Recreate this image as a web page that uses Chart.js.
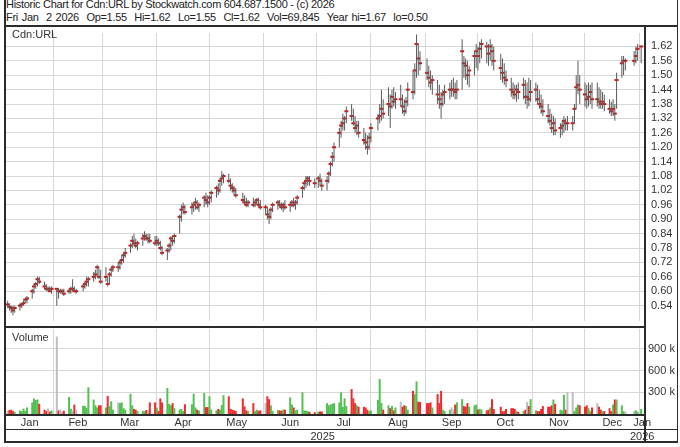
<!DOCTYPE html>
<html>
<head>
<meta charset="utf-8">
<script src="https://cdn.jsdelivr.net/npm/chart.js@4.4.1/dist/chart.umd.min.js"></script>
<style>
body { margin: 0; background: #fff; }
#wrap { position: relative; width: 680px; height: 447px; overflow: hidden; font-family: "Liberation Sans", Arial, sans-serif; color: #222; }
canvas { position: absolute; left: 0; }
.txt { position: absolute; font-size: 11px; line-height: 13px; white-space: pre; }
.hd { letter-spacing: -0.3px; }
.ln { position: absolute; background: #2b2b2b; }
</style>
</head>
<body>
<div id="wrap">
  <div class="txt hd" style="left:6px; top:-2px;">Historic Chart for Cdn:URL by Stockwatch.com 604.687.1500 - (c) 2026</div>
  <div class="txt hd" style="left:6px; top:11px; word-spacing:1px;">Fri Jan  2 2026  Op=1.55  Hi=1.62  Lo=1.55  Cl=1.62  Vol=69,845  Year hi=1.67  lo=0.50</div>
  <canvas id="priceChart" width="680" height="300" style="top:27px"></canvas>
  <canvas id="volumeChart" width="680" height="113" style="top:329px"></canvas>
  <div class="txt" style="left:12px; top:28px; color:#333;">Cdn:URL</div>
  <div class="txt" style="left:12px; top:331px; color:#333;">Volume</div>
  <div class="ln" style="left:4px; top:0px; width:2px; height:443px;"></div>
  <div class="ln" style="left:677px; top:0px; width:1px; height:443px;"></div>
  <div class="ln" style="left:4px; top:25px; width:674px; height:2px;"></div>
  <div class="ln" style="left:4px; top:326px; width:641px; height:2px;"></div>
  <div class="ln" style="left:644px; top:26px; width:2px; height:416px;"></div>
  <div class="ln" style="left:4px; top:414px; width:641px; height:2px;"></div>
  <div class="ln" style="left:4px; top:429px; width:674px; height:1px;"></div>
  <div class="ln" style="left:4px; top:441px; width:674px; height:2px;"></div>
</div>
<script>
const monthNames = ['Jan', 'Feb', 'Mar', 'Apr', 'May', 'Jun', 'Jul', 'Aug', 'Sep', 'Oct', 'Nov', 'Dec', 'Jan'];
const yearLabels = ['2025', '2026'];
const priceTicks = [0.54, 0.60, 0.66, 0.72, 0.78, 0.84, 0.90, 0.96, 1.02, 1.08, 1.14, 1.20, 1.26, 1.32, 1.38, 1.44, 1.50, 1.56, 1.62];
const volumeTicks = [300000, 600000, 900000];
const holidays = ['2025-02-17', '2025-04-18', '2025-05-19', '2025-07-01', '2025-08-04', '2025-09-01',
    '2025-10-13', '2025-12-25', '2025-12-26', '2026-01-01'];

// daily closes, Jan 6 2025 .. Jan 2 2026 (one row per month)
const closes = [
    0.545, 0.535, 0.53, 0.52, 0.53, 0.54, 0.545, 0.55, 0.565, 0.57, 0.60, 0.62, 0.63, 0.65, 0.64, 0.62, 0.61, 0.61, 0.60, 0.61,
    0.61, 0.60, 0.60, 0.60, 0.59, 0.60, 0.61, 0.61, 0.60, 0.60, 0.62, 0.63, 0.64, 0.65, 0.66, 0.67, 0.70, 0.66, 0.64,
    0.66, 0.63, 0.67, 0.69, 0.70, 0.70, 0.72, 0.73, 0.75, 0.76, 0.79, 0.81, 0.80, 0.79, 0.80, 0.82, 0.83, 0.82, 0.82, 0.81, 0.80,
    0.81, 0.80, 0.78, 0.76, 0.77, 0.79, 0.82, 0.81, 0.83, 0.91, 0.94, 0.95, 0.93, 0.95, 0.96, 0.97, 0.95, 0.96, 0.99, 0.98, 0.97,
    0.99, 1.01, 1.03, 1.02, 1.06, 1.07, 1.08, 1.06, 1.04, 1.03, 1.02, 1.00, 0.98, 0.97, 0.96, 0.97, 0.96, 0.97, 0.98, 0.96, 0.95,
    0.95, 0.92, 0.91, 0.94, 0.96, 0.97, 0.96, 0.95, 0.96, 0.95, 0.96, 0.97, 0.96, 0.97, 0.99, 1.03, 1.05, 1.06, 1.07, 1.06, 1.05,
    1.07, 1.06, 1.04, 1.06, 1.09, 1.13, 1.16, 1.20, 1.26, 1.29, 1.30, 1.32, 1.35, 1.33, 1.30, 1.28, 1.29, 1.26, 1.23, 1.22, 1.20, 1.24,
    1.28, 1.32, 1.33, 1.36, 1.34, 1.38, 1.37, 1.41, 1.39, 1.40, 1.40, 1.37, 1.35, 1.39, 1.44, 1.43, 1.52, 1.63, 1.57, 1.55,
    1.51, 1.49, 1.47, 1.48, 1.42, 1.40, 1.38, 1.42, 1.43, 1.44, 1.44, 1.44, 1.43, 1.44, 1.60, 1.55, 1.54, 1.50, 1.52, 1.58, 1.60,
    1.58, 1.61, 1.63, 1.62, 1.59, 1.62, 1.60, 1.56, 1.53, 1.51, 1.49, 1.48, 1.44, 1.43, 1.42, 1.44, 1.43, 1.46, 1.41, 1.41, 1.40, 1.43,
    1.44, 1.40, 1.38, 1.37, 1.35, 1.33, 1.31, 1.28, 1.30, 1.27, 1.28, 1.29, 1.31, 1.30, 1.30, 1.30, 1.36, 1.45, 1.46, 1.44,
    1.42, 1.40, 1.41, 1.43, 1.40, 1.40, 1.39, 1.38, 1.39, 1.38, 1.36, 1.35, 1.36, 1.34, 1.48, 1.55, 1.56, 1.56, 1.56, 1.58, 1.61,
    1.62
];
const highs = [
    0.56, 0.55, 0.54, 0.54, 0.54, 0.55, 0.55, 0.56, 0.57, 0.58, 0.61, 0.63, 0.64, 0.66, 0.66, 0.64, 0.63, 0.62, 0.62, 0.62,
    0.61, 0.61, 0.61, 0.61, 0.61, 0.61, 0.62, 0.65, 0.62, 0.61, 0.63, 0.64, 0.66, 0.66, 0.68, 0.69, 0.71, 0.70, 0.69,
    0.70, 0.66, 0.68, 0.70, 0.71, 0.72, 0.73, 0.75, 0.76, 0.78, 0.80, 0.83, 0.84, 0.82, 0.81, 0.84, 0.85, 0.84, 0.84, 0.84, 0.83,
    0.83, 0.82, 0.81, 0.79, 0.78, 0.80, 0.83, 0.83, 0.84, 0.92, 0.96, 0.97, 0.96, 0.97, 0.97, 0.99, 0.98, 0.97, 1.00, 1.01, 1.00,
    1.00, 1.02, 1.04, 1.05, 1.07, 1.10, 1.09, 1.09, 1.07, 1.05, 1.04, 1.03, 1.01, 1.00, 0.99, 0.98, 0.99, 0.98, 0.99, 0.99, 0.98,
    0.96, 0.95, 0.94, 0.95, 0.97, 0.98, 0.98, 0.97, 0.97, 0.98, 0.97, 0.98, 0.99, 0.98, 1.00, 1.04, 1.06, 1.08, 1.08, 1.08, 1.07,
    1.08, 1.09, 1.07, 1.08, 1.10, 1.14, 1.18, 1.22, 1.28, 1.31, 1.34, 1.33, 1.37, 1.38, 1.36, 1.33, 1.31, 1.31, 1.28, 1.26, 1.25, 1.26,
    1.30, 1.34, 1.38, 1.44, 1.40, 1.45, 1.42, 1.44, 1.45, 1.43, 1.46, 1.42, 1.40, 1.41, 1.47, 1.52, 1.55, 1.67, 1.63, 1.60,
    1.57, 1.54, 1.52, 1.50, 1.48, 1.46, 1.43, 1.44, 1.46, 1.47, 1.48, 1.49, 1.47, 1.48, 1.65, 1.58, 1.57, 1.56, 1.54, 1.60, 1.63,
    1.62, 1.64, 1.65, 1.64, 1.63, 1.65, 1.63, 1.62, 1.59, 1.57, 1.55, 1.52, 1.49, 1.47, 1.46, 1.46, 1.47, 1.49, 1.48, 1.47, 1.49, 1.48,
    1.47, 1.46, 1.44, 1.42, 1.40, 1.38, 1.36, 1.34, 1.33, 1.32, 1.30, 1.31, 1.33, 1.32, 1.33, 1.33, 1.38, 1.50, 1.56, 1.50,
    1.47, 1.46, 1.47, 1.46, 1.47, 1.47, 1.45, 1.44, 1.43, 1.42, 1.40, 1.39, 1.40, 1.38, 1.51, 1.58, 1.58, 1.57, 1.60, 1.62, 1.63,
    1.62
];
const lows = [
    0.53, 0.52, 0.51, 0.50, 0.51, 0.52, 0.53, 0.54, 0.55, 0.55, 0.57, 0.59, 0.61, 0.62, 0.63, 0.61, 0.60, 0.60, 0.60, 0.59,
    0.54, 0.57, 0.59, 0.59, 0.58, 0.59, 0.59, 0.60, 0.60, 0.59, 0.60, 0.61, 0.62, 0.62, 0.64, 0.65, 0.66, 0.65, 0.63,
    0.64, 0.62, 0.63, 0.66, 0.68, 0.68, 0.69, 0.71, 0.72, 0.74, 0.76, 0.78, 0.79, 0.78, 0.77, 0.79, 0.81, 0.81, 0.80, 0.80, 0.79,
    0.79, 0.79, 0.77, 0.75, 0.73, 0.76, 0.77, 0.79, 0.80, 0.84, 0.89, 0.92, 0.92, 0.92, 0.93, 0.94, 0.94, 0.93, 0.95, 0.96, 0.95,
    0.96, 0.97, 0.99, 1.00, 1.01, 1.04, 1.05, 1.05, 1.02, 1.01, 1.00, 0.99, 0.97, 0.96, 0.95, 0.95, 0.95, 0.95, 0.96, 0.95, 0.94,
    0.92, 0.90, 0.88, 0.90, 0.93, 0.94, 0.95, 0.94, 0.93, 0.94, 0.93, 0.95, 0.95, 0.94, 0.96, 0.99, 1.02, 1.03, 1.04, 1.04, 1.03,
    1.03, 1.04, 1.02, 1.02, 1.05, 1.08, 1.12, 1.14, 1.20, 1.24, 1.27, 1.27, 1.30, 1.31, 1.29, 1.26, 1.25, 1.24, 1.21, 1.19, 1.17, 1.19,
    1.22, 1.27, 1.30, 1.31, 1.32, 1.33, 1.28, 1.36, 1.37, 1.36, 1.37, 1.34, 1.33, 1.34, 1.37, 1.40, 1.42, 1.49, 1.50, 1.52,
    1.48, 1.45, 1.44, 1.42, 1.38, 1.36, 1.32, 1.37, 1.38, 1.40, 1.41, 1.41, 1.40, 1.40, 1.44, 1.49, 1.48, 1.46, 1.45, 1.50, 1.53,
    1.52, 1.55, 1.57, 1.55, 1.54, 1.56, 1.54, 1.52, 1.48, 1.47, 1.46, 1.45, 1.41, 1.40, 1.40, 1.39, 1.40, 1.40, 1.38, 1.36, 1.37, 1.39,
    1.39, 1.38, 1.36, 1.34, 1.33, 1.30, 1.29, 1.26, 1.25, 1.25, 1.24, 1.25, 1.26, 1.27, 1.27, 1.27, 1.30, 1.36, 1.42, 1.38,
    1.37, 1.36, 1.37, 1.38, 1.36, 1.37, 1.36, 1.36, 1.36, 1.35, 1.34, 1.33, 1.33, 1.31, 1.36, 1.49, 1.50, 1.52, 1.54, 1.55, 1.56,
    1.55
];
// daily volume in thousands of shares
const volumes = [
    45, 55, 60, 40, 30, 50, 40, 75, 45, 90, 160, 215, 195, 200, 140, 60, 45, 75, 35, 50,
    1070, 50, 65, 35, 45, 235, 70, 45, 130, 60, 115, 110, 85, 370, 200, 120, 90, 120, 120,
    90, 250, 110, 175, 60, 160, 150, 160, 80, 60, 280, 120, 70, 60, 40, 45, 40, 55, 50, 160, 160,
    90, 40, 215, 160, 360, 140, 120, 150, 80, 60, 70, 40, 135, 135, 280, 90, 60, 50, 290, 95, 95,
    245, 60, 50, 70, 60, 125, 260, 245, 70, 60, 50, 40, 215, 105, 50, 40, 150, 40, 60, 45, 50,
    150, 245, 205, 120, 40, 55, 50, 45, 60, 60, 230, 130, 90, 50, 60, 300, 50, 45, 40, 30, 25,
    30, 35, 35, 150, 120, 130, 140, 150, 160, 300, 100, 215, 110, 345, 215, 150, 120, 100, 100, 90, 60, 40,
    50, 195, 485, 150, 60, 120, 80, 110, 50, 90, 170, 100, 120, 110, 60, 320, 275, 450, 170, 165,
    150, 150, 160, 90, 275, 150, 320, 60, 40, 60, 90, 60, 130, 160, 205, 110, 100, 150, 100, 120, 130,
    60, 70, 60, 50, 60, 90, 205, 70, 100, 40, 40, 70, 80, 80, 70, 40, 30, 40, 60, 165, 110, 205,
    50, 40, 40, 70, 110, 100, 100, 120, 200, 140, 60, 50, 265, 60, 300, 300, 40, 90, 130, 120,
    100, 120, 80, 40, 90, 150, 100, 60, 40, 40, 80, 40, 130, 200, 200, 120, 40, 30, 40, 50, 30,
    70
];

const DAY = 86400000;
const base = Date.UTC(2025, 0, 1);
const xMin = 4.05;
const xMax = 368.2;
const gridColor = '#d6d6d6';
const labelColor = '#333';
const fontFamily = '"Liberation Sans", Arial, sans-serif';

function dayIndex(y, m, d) {
    return (Date.UTC(y, m, d) - base) / DAY;
}

function buildTradingDays() {
    const out = [];
    for (let t = Date.UTC(2025, 0, 6); t <= Date.UTC(2026, 0, 2); t += DAY) {
        const dt = new Date(t);
        const wd = dt.getUTCDay();
        if (wd === 0 || wd === 6) continue;
        if (holidays.includes(dt.toISOString().slice(0, 10))) continue;
        out.push((t - base) / DAY);
    }
    return out;
}

const days = buildTradingDays();
if (days.length !== closes.length || highs.length !== closes.length || lows.length !== closes.length || volumes.length !== closes.length) {
    throw new Error('length mismatch ' + days.length + ' ' + closes.length + ' ' + highs.length + ' ' + lows.length + ' ' + volumes.length);
}

const monthStarts = [];
const monthCenters = [];
for (let k = 0; k < 13; k++) {
    const start = dayIndex(2025, k, 1);
    const end = dayIndex(2025, k + 1, 1);
    if (k > 0) monthStarts.push(start);
    monthCenters.push((Math.max(start, xMin) + Math.min(end, xMax)) / 2);
}
const yearCenters = [
    (Math.max(dayIndex(2025, 0, 1), xMin) + dayIndex(2026, 0, 1)) / 2,
    (dayIndex(2026, 0, 1) + Math.min(dayIndex(2027, 0, 1), xMax)) / 2
];

const volumeColors = closes.map((c, i) => {
    if (i === 0 || c === closes[i - 1]) return '#bdbdbd';
    return c > closes[i - 1] ? '#52c152' : '#ec2b2b';
});

function gridAxis() {
    return {
        type: 'linear',
        min: xMin,
        max: xMax,
        offset: false,
        grid: { color: gridColor, drawTicks: false, offset: false },
        border: { display: false },
        ticks: { display: false },
        afterBuildTicks: s => { s.ticks = monthStarts.map(v => ({ value: v })); },
        afterFit: s => { s.height = 0; }
    };
}

function labelAxis(weight, values, names, height, pad) {
    return {
        type: 'linear',
        position: 'bottom',
        weight: weight,
        min: xMin,
        max: xMax,
        offset: false,
        grid: { display: false, drawTicks: false },
        border: { display: false },
        ticks: {
            autoSkip: false,
            maxRotation: 0,
            padding: pad,
            color: labelColor,
            font: { family: fontFamily, size: 11 },
            callback: (v, i) => names[i]
        },
        afterBuildTicks: s => { s.ticks = values.map(v => ({ value: v })); },
        afterFit: s => { s.height = height; s.paddingLeft = 0; s.paddingRight = 0; }
    };
}

function rightAxis(min, max, ticks, fmt, pad) {
    return {
        position: 'right',
        min: min,
        max: max,
        grid: { color: gridColor, drawTicks: false },
        border: { display: false },
        ticks: { autoSkip: false, color: labelColor, padding: pad, font: { family: fontFamily, size: 11 }, callback: fmt },
        afterBuildTicks: s => { s.ticks = ticks.map(v => ({ value: v })); },
        afterFit: s => { s.width = 35; s.paddingTop = 0; s.paddingBottom = 0; }
    };
}

const common = {
    responsive: false,
    animation: false,
    events: [],
    layout: { padding: { left: 6, right: 0, top: 0, bottom: 0 } },
    plugins: { legend: { display: false }, tooltip: { enabled: false } }
};

new Chart(document.getElementById('priceChart'), {
    type: 'bar',
    data: {
        datasets: [{
            type: 'bar',
            data: days.map((d, i) => ({ x: d, y: [lows[i], highs[i]] })),
            backgroundColor: '#5a5a5a',
            barThickness: 1,
            inflateAmount: 0,
            grouped: false
        }, {
            type: 'line',
            showLine: false,
            data: days.map((d, i) => ({ x: d, y: closes[i] })),
            pointStyle: 'line',
            pointRadius: 2,
            borderColor: '#e01010',
            borderWidth: 2
        }]
    },
    options: Object.assign({}, common, {
        scales: {
            x: gridAxis(),
            y: rightAxis(0.476, 1.676, priceTicks, v => v.toFixed(2), 6)
        }
    })
});

new Chart(document.getElementById('volumeChart'), {
    type: 'bar',
    data: {
        datasets: [{
            xAxisID: 'x',
            data: days.map((d, i) => ({ x: d, y: volumes[i] * 1000 })),
            backgroundColor: volumeColors,
            barThickness: 2,
            inflateAmount: 0
        }]
    },
    options: Object.assign({}, common, {
        scales: {
            x: gridAxis(),
            xm: labelAxis(1, monthCenters, monthNames, 15, 2),
            xy: labelAxis(2, yearCenters, yearLabels, 13, 1),
            y: rightAxis(0, 1175000, volumeTicks, v => (v / 1000) + ' k', 3)
        }
    })
});
</script>
</body>
</html>
